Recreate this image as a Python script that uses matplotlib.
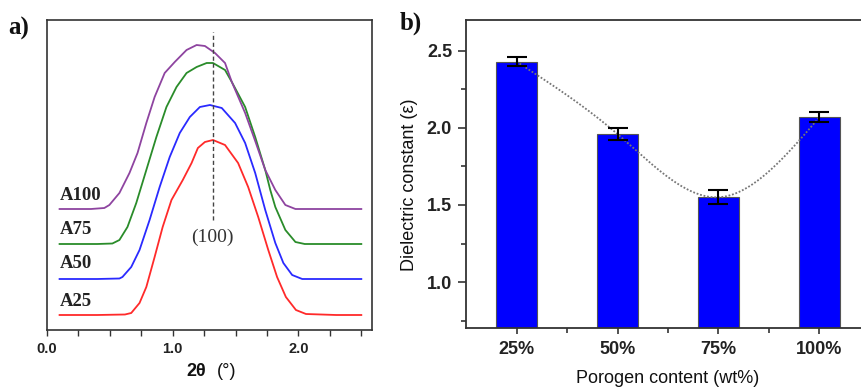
import numpy as np
import matplotlib
matplotlib.use("Agg")
import matplotlib.pyplot as plt
from matplotlib.ticker import MultipleLocator, FixedLocator

plt.rcParams['font.family'] = ['Liberation Sans', 'DejaVu Sans']

# ---------------- data: panel a (XRD curves, intensity in arbitrary units) -------------
x_a25 = [0.10, 0.40, 0.62, 0.67, 0.736, 0.79, 0.856, 0.92, 0.99, 1.08, 1.15, 1.20, 1.256,
         1.32, 1.416, 1.52, 1.60, 1.68, 1.76, 1.83, 1.90, 1.98, 2.06, 2.30, 2.50]
y_a25 = [15, 15, 15.5, 17, 27, 43, 73, 103, 130, 150, 167, 182, 188,
         190, 185, 167, 143, 113, 80, 53, 33, 20, 16, 15, 15]

x_a50 = [0.10, 0.40, 0.576, 0.60, 0.67, 0.736, 0.816, 0.896, 0.976, 1.056, 1.136, 1.216,
         1.296, 1.39, 1.496, 1.576, 1.656, 1.736, 1.816, 1.88, 1.95, 2.03, 2.30, 2.50]
y_a50 = [51, 51, 51.5, 53, 63, 80, 110, 143, 173, 197, 213, 223,
         225, 222, 207, 187, 157, 120, 87, 67, 55, 51, 51, 51]

x_a75 = [0.10, 0.40, 0.52, 0.576, 0.64, 0.71, 0.79, 0.87, 0.95, 1.03, 1.11, 1.19, 1.27,
         1.32, 1.416, 1.47, 1.576, 1.656, 1.736, 1.776, 1.816, 1.896, 1.976, 2.05, 2.30, 2.50]
y_a75 = [86, 86, 86.5, 90, 103, 127, 160, 193, 223, 243, 257, 263, 267,
         267, 260, 248, 223, 193, 160, 140, 123, 100, 88, 86, 86, 86]

x_a100 = [0.10, 0.35, 0.456, 0.496, 0.576, 0.656, 0.72, 0.79, 0.856, 0.936, 1.016, 1.11,
          1.19, 1.256, 1.336, 1.416, 1.47, 1.576, 1.656, 1.736, 1.816, 1.896, 1.976, 2.30, 2.50]
y_a100 = [121, 121, 122, 125, 137, 157, 177, 207, 233, 257, 268, 280,
          285, 284, 277, 267, 248, 217, 189, 160, 140, 125, 121, 121, 121]

curve_names = ['A25', 'A50', 'A75', 'A100']
label_levels = [28, 66, 101, 135]
peak_pos = 1.317

# ---------------- data: panel b (dielectric constant) -----------------------------------
porogen = ['25%', '50%', '75%', '100%']
dielectric = [2.43, 1.96, 1.55, 2.07]
dielectric_err = [0.03, 0.04, 0.045, 0.03]


def natural_spline(xk, yk, xs):
    xk = np.asarray(xk, float); yk = np.asarray(yk, float)
    n = len(xk); h = np.diff(xk)
    A = np.zeros((n, n)); b = np.zeros(n)
    A[0, 0] = A[-1, -1] = 1
    for i in range(1, n - 1):
        A[i, i - 1] = h[i - 1]; A[i, i] = 2 * (h[i - 1] + h[i]); A[i, i + 1] = h[i]
        b[i] = 6 * ((yk[i + 1] - yk[i]) / h[i] - (yk[i] - yk[i - 1]) / h[i - 1])
    M = np.linalg.solve(A, b)
    idx = np.clip(np.searchsorted(xk, xs) - 1, 0, n - 2)
    x0 = xk[idx]; x1 = xk[idx + 1]; hh = x1 - x0
    t0 = x1 - xs; t1 = xs - x0
    return (M[idx] * t0 ** 3 / (6 * hh) + M[idx + 1] * t1 ** 3 / (6 * hh)
            + (yk[idx] / hh - M[idx] * hh / 6) * t0 + (yk[idx + 1] / hh - M[idx + 1] * hh / 6) * t1)


W, H = 861, 388
fig = plt.figure(figsize=(W / 100, H / 100), dpi=100)
fig.patch.set_facecolor('white')

spine_c = '#333333'

# ---------------- panel a ----------------
ax1 = fig.add_axes([47 / W, 58 / H, 325 / W, 310 / H])
colors = ['#FF2A2A', '#2A2AFF', '#2A8C2A', '#8E44A0']
for xs, ys, c in zip([x_a25, x_a50, x_a75, x_a100], [y_a25, y_a50, y_a75, y_a100], colors):
    ax1.plot(xs, ys, color=c, lw=1.3, solid_joinstyle='round')
ax1.plot([peak_pos, peak_pos], [110, 298], color='#444444', lw=1.0, ls=(0, (3, 2)))
for name, lvl in zip(curve_names, label_levels):
    ax1.text(0.098, lvl, name, fontfamily=['Liberation Serif'], fontweight='bold',
             fontsize=13.5, va='center', ha='left', color='#222222')
ax1.text(peak_pos, 93, '(100)', fontfamily=['Liberation Serif'], fontsize=14,
         ha='center', va='center', color='#333333')
ax1.set_xlim(0, 2.585)
ax1.set_ylim(0, 310)
ax1.set_yticks([])
ax1.xaxis.set_major_locator(FixedLocator([0, 1, 2]))
ax1.set_xticklabels(['0.0', '1.0', '2.0'])
ax1.xaxis.set_minor_locator(MultipleLocator(0.25))
ax1.tick_params(axis='x', which='both', direction='out', length=4, width=1.0,
                color=spine_c, pad=4.5, labelsize=10.5, labelcolor='#222222')
for lbl in ax1.get_xticklabels():
    lbl.set_fontweight('bold')
for s in ax1.spines.values():
    s.set_color(spine_c); s.set_linewidth(1.2)
ax1.set_xlabel('2θ', fontweight='bold', fontsize=13, color='#111111')
ax1.xaxis.set_label_coords(0.46, -0.105)
ax1.text(0.522, -0.105, '(°)', transform=ax1.transAxes, fontsize=13, ha='left', va='top',
         color='#111111')

# ---------------- panel b ----------------
ax2 = fig.add_axes([466 / W, (H - 328.3) / H, 404 / W, 308.3 / H])
xpos = np.arange(1, len(porogen) + 1)
ax2.bar(xpos, dielectric, width=0.4, color='#0000FF', edgecolor='#555555', linewidth=0.8,
        zorder=2)
xs_fit = np.linspace(1, 4, 200)
ax2.plot(xs_fit, natural_spline(xpos, dielectric, xs_fit), color='#777777', lw=1.3,
         ls=(0, (1, 1)), zorder=3)
ax2.errorbar(xpos, dielectric, yerr=dielectric_err, fmt='none', ecolor='black',
             elinewidth=1.5, capsize=7.5, capthick=1.5, zorder=4)
ax2.set_xlim(0.5, 4.5)
ax2.set_ylim(0.7, 2.7)
ax2.set_xticks(xpos)
ax2.set_xticklabels(porogen)
ax2.xaxis.set_minor_locator(FixedLocator([1.5, 2.5, 3.5]))
ax2.set_yticks([1.0, 1.5, 2.0, 2.5])
ax2.yaxis.set_minor_locator(FixedLocator([0.75, 1.25, 1.75, 2.25]))
ax2.tick_params(axis='both', which='major', direction='out', length=6, width=1.2,
                color=spine_c, labelsize=13, labelcolor='#222222')
ax2.tick_params(axis='both', which='minor', direction='out', length=3.5, width=1.2,
                color=spine_c)
ax2.tick_params(axis='x', which='major', length=4.5, pad=5)
ax2.tick_params(axis='y', pad=4)
for lbl in ax2.get_xticklabels() + ax2.get_yticklabels():
    lbl.set_fontweight('bold')
for s in ax2.spines.values():
    s.set_color(spine_c); s.set_linewidth(1.3)
ax2.set_xlabel('Porogen content (wt%)', fontsize=13, color='#111111')
ax2.xaxis.set_label_coords(0.5, -0.135)
ax2.set_ylabel('Dielectric constant (ε)', fontsize=13, color='#111111')
ax2.yaxis.set_label_coords(-0.12, 0.465)

# panel letters
fig.text(8 / W, 1 - 28.5 / H, 'a)', fontfamily=['Liberation Serif'], fontweight='bold',
         fontsize=18, ha='left', va='center', color='#111111')
fig.text(400 / W, 1 - 23.5 / H, 'b)', fontfamily=['Liberation Serif'], fontweight='bold',
         fontsize=18, ha='left', va='center', color='#111111')

fig.savefig('out.png', dpi=100, facecolor='white')
